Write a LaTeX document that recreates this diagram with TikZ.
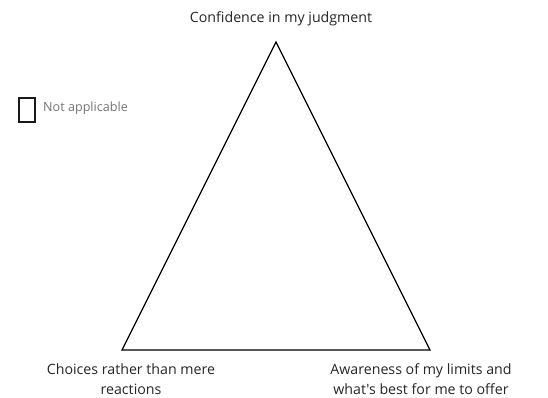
\documentclass[tikz,border=0pt]{standalone}
\usepackage{fontspec}
\setmainfont{Open Sans}[Ligatures=TeXOff]
\begin{document}
\begin{tikzpicture}[x=1pt,y=-1pt,
  lbl/.style={font=\fontsize{14.2}{20}\selectfont, text=black!85, align=center, inner sep=0pt},
  legtxt/.style={font=\fontsize{12.6}{15}\selectfont, text=black!55, anchor=west, inner sep=0pt},
  legbox/.style={draw=black!90, line width=2pt, fill=white}]
\useasboundingbox (0,0) rectangle (548,397);
\coordinate (A) at (276,42);
\coordinate (B) at (122,350);
\coordinate (C) at (430,350);
\draw[line width=1.3pt, line join=miter] (A) -- (B) -- (C) -- cycle;
\node[lbl] (top) at (281,19) {Confidence in my judgment};
\node[lbl] (bl) at (131,379) {Choices rather than mere\\reactions};
\node[lbl] (br) at (421,379) {Awareness of my limits and\\what's best for me to offer};
\node[legbox, minimum width=16pt, minimum height=24pt, inner sep=0pt] (lb) at (26.5,109.5) {};
\node[legtxt] (lt) at (43,108.5) {Not applicable};
\end{tikzpicture}
\end{document}
